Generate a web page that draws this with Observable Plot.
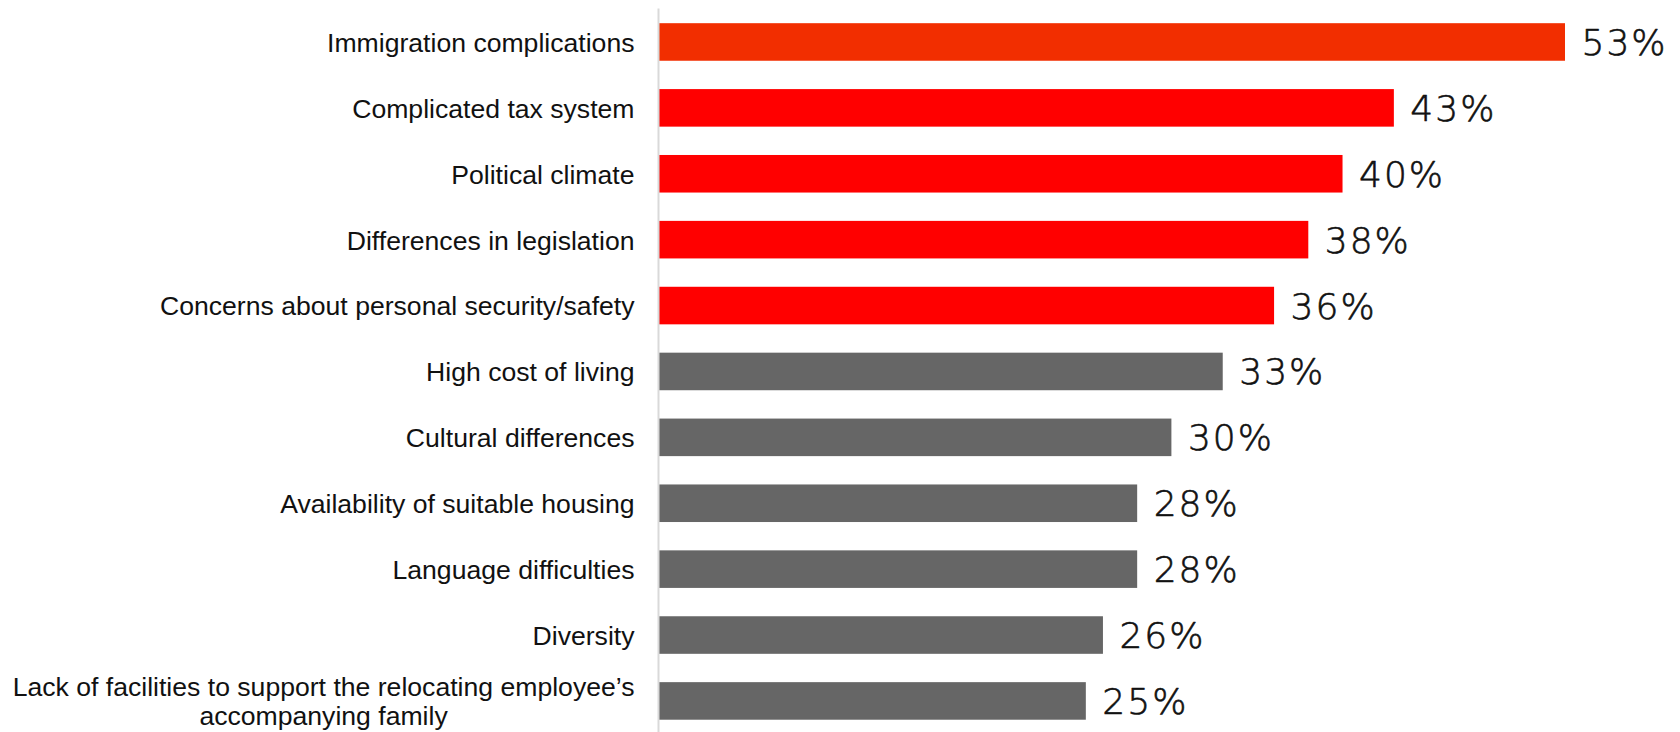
<!DOCTYPE html>
<html>
<head>
<meta charset="utf-8">
<script src="https://cdn.jsdelivr.net/npm/d3@7"></script>
<script src="https://cdn.jsdelivr.net/npm/@observablehq/plot@0.6"></script>
<style>
  html, body { margin: 0; padding: 0; background: #fff; }
  #chart svg { display: block; }
  .vlabel text { letter-spacing: 2px; }
</style>
</head>
<body>
<div id="chart"></div>
<script>
const categories = [
  "Immigration complications",
  "Complicated tax system",
  "Political climate",
  "Differences in legislation",
  "Concerns about personal security/safety",
  "High cost of living",
  "Cultural differences",
  "Availability of suitable housing",
  "Language difficulties",
  "Diversity",
  "Lack of facilities to support the relocating employee’s\naccompanying family"
];
const values = [53, 43, 40, 38, 36, 33, 30, 28, 28, 26, 25];
const groups = ["top", "red", "red", "red", "red", "gray", "gray", "gray", "gray", "gray", "gray"];

const groupDomain = ["top", "red", "gray"];
const groupColors = ["#f22e00", "#ff0000", "#666666"];

const data = categories.map((c, i) => ({category: c, value: values[i], group: groups[i]}));

const chart = Plot.plot({
  width: 1680,
  height: 732,
  marginLeft: 658,
  marginRight: 115,
  marginTop: 16.6,
  marginBottom: 5.7,
  style: {background: "#fff", color: "#111"},
  x: {domain: [0, 53], axis: null},
  y: {domain: categories, paddingInner: 0.43, paddingOuter: 0.1, round: false, label: null},
  color: {domain: groupDomain, range: groupColors},
  marks: [
    Plot.barX(data, {x: "value", y: "category", fill: "group"}),
    Plot.ruleX([0], {stroke: "#d9d9d9", strokeWidth: 2, insetTop: -8, insetBottom: -6}),
    Plot.text(data, {
      x: "value", y: "category", text: d => d.value + "%",
      textAnchor: "start", dx: 16, dy: 1, fontSize: 36, fill: "#111",
      stroke: "#111", strokeWidth: 0.6,
      fontFamily: "DejaVu Sans", fontWeight: 300, className: "vlabel"
    }),
    Plot.axisY({
      tickSize: 0, tickPadding: 24, fontSize: 26.6, lineHeight: 1.1,
      fontFamily: "Liberation Sans, Arial, sans-serif", fill: "#111", label: null
    })
  ]
});

document.getElementById("chart").appendChild(chart);

// Center the lines of the multi-line label under its first line
chart.querySelectorAll("text").forEach(t => {
  const spans = t.querySelectorAll("tspan");
  if (spans.length > 1) {
    const w = spans[0].getComputedTextLength();
    t.setAttribute("text-anchor", "middle");
    spans.forEach(s => {
      const x0 = +(s.getAttribute("x") || 0);
      s.setAttribute("x", x0 - w / 2);
    });
  }
});
</script>
</body>
</html>
